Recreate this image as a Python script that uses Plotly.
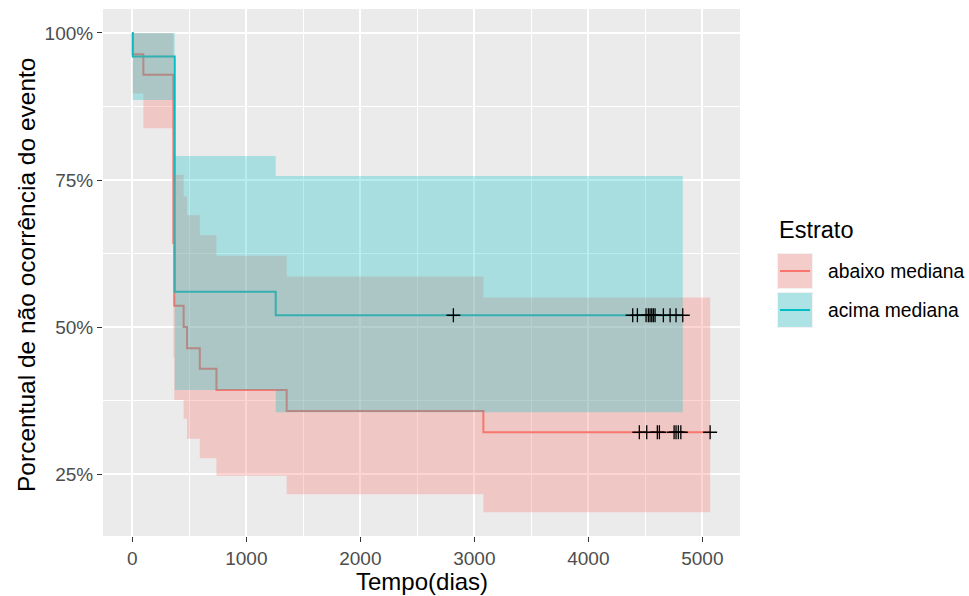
import plotly.graph_objects as go

# ---------------- data ----------------
group_names = ["abaixo mediana", "acima mediana"]

red_time = [0, 4, 97, 360, 368, 450, 480, 592, 738, 1354, 3079]
red_surv = [1.0, 0.964, 0.929, 0.643, 0.536, 0.500, 0.464, 0.429, 0.393, 0.357, 0.321]
red_upper = [1.0, 1.0, 1.0, 0.85, 0.759, 0.722, 0.690, 0.656, 0.621, 0.586, 0.550]
red_lower = [1.0, 0.897, 0.838, 0.449, 0.376, 0.344, 0.310, 0.277, 0.247, 0.2155, 0.185]
red_end = 5068
red_censor = [4447, 4512, 4605, 4623, 4752, 4769, 4789, 4811, 5068]

cyan_time = [0, 4, 372, 1258]
cyan_surv = [1.0, 0.96, 0.56, 0.52]
cyan_upper = [1.0, 1.0, 0.791, 0.757]
cyan_lower = [1.0, 0.886, 0.393, 0.355]
cyan_end = 4828
cyan_censor = [2816, 4389, 4430, 4506, 4526, 4541, 4556, 4570, 4585, 4658, 4717, 4769, 4828]

x_ticks = [0, 1000, 2000, 3000, 4000, 5000]
y_ticks = [0.25, 0.50, 0.75, 1.00]
y_tick_labels = ["25%", "50%", "75%", "100%"]

# ---------------- styles ----------------
RED = "#F8766D"
CYAN = "#00BFC4"
RED_FILL = "rgba(248,118,109,0.3)"
CYAN_FILL = "rgba(0,191,196,0.28)"
FONT = "Liberation Sans, Arial, Helvetica, sans-serif"


def step_polygon(times, upper, lower, end):
    xs, ys = [], []
    n = len(times)
    for i in range(n):
        nxt = times[i + 1] if i + 1 < n else end
        xs += [times[i], nxt]
        ys += [upper[i], upper[i]]
    for i in reversed(range(n)):
        nxt = times[i + 1] if i + 1 < n else end
        xs += [nxt, times[i]]
        ys += [lower[i], lower[i]]
    return xs, ys


def surv_at(times, surv, t):
    v = surv[0]
    for ti, si in zip(times, surv):
        if ti <= t:
            v = si
    return v


groups = [
    (red_time, red_surv, red_upper, red_lower, red_end, red_censor, RED, RED_FILL),
    (cyan_time, cyan_surv, cyan_upper, cyan_lower, cyan_end, cyan_censor, CYAN, CYAN_FILL),
]

fig = go.Figure()

# step lines first (ribbons drawn over them, as in the reference)
for tm, sv, up, lo, end, cens, col, fcol in groups:
    fig.add_trace(go.Scatter(
        x=tm + [end], y=sv + [sv[-1]], mode="lines",
        line=dict(color=col, width=2, shape="hv"),
        showlegend=False, hoverinfo="skip"))

# confidence ribbons
for tm, sv, up, lo, end, cens, col, fcol in groups:
    px, py = step_polygon(tm, up, lo, end)
    fig.add_trace(go.Scatter(
        x=px, y=py, mode="lines", fill="toself", fillcolor=fcol,
        line=dict(width=0, color=fcol), showlegend=False, hoverinfo="skip"))

# censor marks
for tm, sv, up, lo, end, cens, col, fcol in groups:
    fig.add_trace(go.Scatter(
        x=cens, y=[surv_at(tm, sv, c) for c in cens], mode="markers",
        marker=dict(symbol="cross-thin", size=10, line=dict(color="black", width=1.3)),
        showlegend=False, hoverinfo="skip"))

# geometry (pixels) -> paper
L, R, T, B = 103, 740, 9, 536
W, H = 969, 596


def px2x(p):
    return (p - L) / (R - L)


def px2y(p):
    return (B - p) / (B - T)


shapes = []
annotations = []
# manual legend
annotations.append(dict(x=px2x(777), y=px2y(230), xref="paper", yref="paper",
                        text="Estrato", showarrow=False, xanchor="left", yanchor="middle",
                        font=dict(size=23.5, color="black", family=FONT)))
key_tops = [253, 292]
for name, col, fcol, top in zip(group_names, [RED, CYAN], [RED_FILL, CYAN_FILL], key_tops):
    shapes.append(dict(type="rect", xref="paper", yref="paper",
                       x0=px2x(777), x1=px2x(813), y0=px2y(top), y1=px2y(top + 36),
                       fillcolor="#F2F2F2", line=dict(width=0), layer="above"))
    shapes.append(dict(type="rect", xref="paper", yref="paper",
                       x0=px2x(778), x1=px2x(812), y0=px2y(top + 1), y1=px2y(top + 35),
                       fillcolor=fcol, line=dict(width=0), layer="above"))
    shapes.append(dict(type="line", xref="paper", yref="paper",
                       x0=px2x(780), x1=px2x(810), y0=px2y(top + 18), y1=px2y(top + 18),
                       line=dict(color=col, width=2), layer="above"))
    annotations.append(dict(x=px2x(826), y=px2y(top + 18), xref="paper", yref="paper",
                            text=name, showarrow=False, xanchor="left", yanchor="middle",
                            font=dict(size=19.3, color="black", family=FONT)))

# axis titles
annotations.append(dict(x=px2x(422), y=px2y(581), xref="paper", yref="paper",
                        text="Tempo(dias)", showarrow=False, xanchor="center", yanchor="middle",
                        font=dict(size=24, color="black", family=FONT)))
annotations.append(dict(x=px2x(26), y=px2y(275), xref="paper", yref="paper",
                        text="Porcentual de não ocorrência do evento", showarrow=False,
                        textangle=-90, xanchor="center", yanchor="middle",
                        font=dict(size=24.5, color="black", family=FONT)))

fig.update_layout(
    width=W, height=H,
    margin=dict(l=L, r=W - R, t=T, b=H - B, pad=0),
    paper_bgcolor="white", plot_bgcolor="#EBEBEB",
    showlegend=False,
    font=dict(family=FONT),
    shapes=shapes, annotations=annotations,
)

fig.update_xaxes(
    range=[-257, 5330], tickmode="array", tickvals=x_ticks,
    ticktext=[str(v) for v in x_ticks],
    showgrid=True, gridcolor="white", gridwidth=1.6, zeroline=False,
    ticks="outside", ticklen=5, tickwidth=1.2, tickcolor="#333333",
    tickfont=dict(size=19, color="#4D4D4D", family=FONT),
    minor=dict(tickmode="array", tickvals=[500, 1500, 2500, 3500, 4500],
               showgrid=True, gridcolor="white", gridwidth=0.8, ticks=""),
    showline=False,
)
fig.update_yaxes(
    range=[0.1446, 1.0408], tickmode="array", tickvals=y_ticks, ticktext=y_tick_labels,
    showgrid=True, gridcolor="white", gridwidth=1.6, zeroline=False,
    ticks="outside", ticklen=5, tickwidth=1.2, tickcolor="#333333",
    tickfont=dict(size=19, color="#4D4D4D", family=FONT),
    minor=dict(tickmode="array", tickvals=[0.375, 0.625, 0.875],
               showgrid=True, gridcolor="white", gridwidth=0.8, ticks=""),
    showline=False,
)

fig.write_html("out.html")
